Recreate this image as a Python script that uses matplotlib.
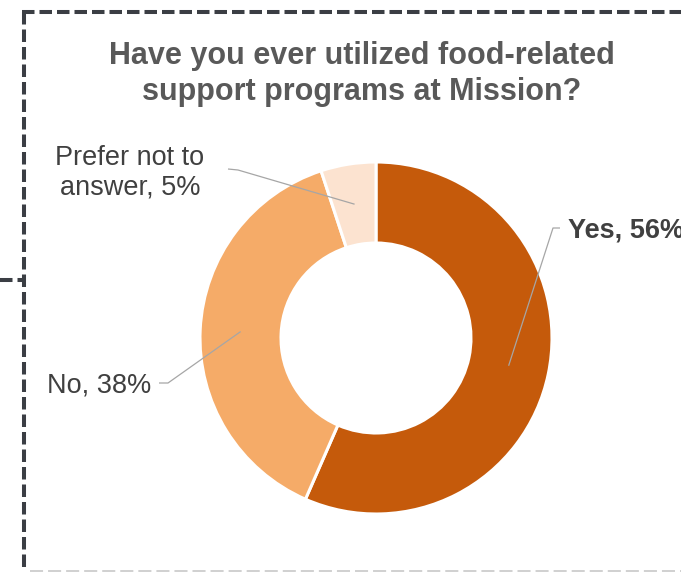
import matplotlib
matplotlib.use("Agg")
import matplotlib.pyplot as plt
from matplotlib.lines import Line2D
import numpy as np

plt.rcParams['font.family'] = ['Liberation Sans', 'DejaVu Sans']
plt.rcParams['lines.scale_dashes'] = False

# Survey responses
categories = ["Yes", "No", "Prefer not to answer"]
shares = [56, 38, 5]
label_texts = ["Yes, 56%", "No, 38%", "Prefer not to\nanswer, 5%"]
colors = ["#C55A0B", "#F5AB68", "#FCE3D0"]
title = "Have you ever utilized food-related\nsupport programs at Mission?"

W, H = 681, 572


def px(x, y):
    """Pixel position (origin top-left) to axes data coordinates."""
    return x, H - y


fig = plt.figure(figsize=(W / 100, H / 100), dpi=100)
ax = fig.add_axes([0, 0, 1, 1])

cx, cy = px(376, 338)
r_out, r_in = 176, 95
wedges, _ = ax.pie(shares, colors=colors, startangle=90, counterclock=False,
                   center=(cx, cy), radius=r_out,
                   wedgeprops=dict(width=r_out - r_in, edgecolor="white", linewidth=2.2))
ax.set_xlim(0, W)
ax.set_ylim(0, H)
ax.set_aspect("equal")
ax.axis("off")

# Leader lines: from mid-ring of each wedge to an elbow next to its label
r_mid = (r_out + r_in) / 2
label_geo = {
    "Yes": dict(elbow=(553, 228), end=(560, 228), text=(568, 230), ha="left", bold=True),
    "No": dict(elbow=(168, 383), end=(159, 383), text=(151, 385), ha="right", bold=False),
    "Prefer not to answer": dict(elbow=(238, 170), end=(228, 169), text=(130, 173), ha="center", bold=False),
}
for w, cat, lab in zip(wedges, categories, label_texts):
    mid = np.deg2rad((w.theta1 + w.theta2) / 2)
    ax_pt = (cx + r_mid * np.cos(mid), cy + r_mid * np.sin(mid))
    g = label_geo[cat]
    ex, ey = px(*g["elbow"])
    tx, ty = px(*g["end"])
    ax.plot([ax_pt[0], ex, tx], [ax_pt[1], ey, ty], color="#A6A6A6", lw=0.9,
            solid_capstyle="butt", zorder=3)
    lx, ly = px(*g["text"])
    ax.text(lx, ly, lab, ha=g["ha"], va="center", fontsize=19.5,
            fontweight="bold" if g["bold"] else "normal", color="#404040",
            linespacing=1.2, multialignment="center")

# Title
tx, ty = px(362, 74)
ax.text(tx, ty, title, ha="center", va="center", fontsize=22, fontweight="bold",
        color="#595959", linespacing=1.22)

# Dashed frame around the chart
dark = "#3B3E44"
frame_kw = dict(color=dark, lw=2.9, dashes=(9, 3.6), solid_capstyle="butt",
                dash_capstyle="butt")
ax.add_line(Line2D([px(22, 12)[0], px(W, 12)[0]], [px(22, 12)[1]] * 2, **frame_kw))
ax.add_line(Line2D([px(24, 12)[0]] * 2, [px(24, 12)[1], px(24, H)[1]], **frame_kw))
ax.add_line(Line2D([px(0, 280)[0], px(24, 280)[0]], [px(0, 280)[1]] * 2, **frame_kw))
ax.add_line(Line2D([px(30, 571)[0], px(W, 571)[0]], [px(30, 571)[1]] * 2,
                   color="#C8C8C8", lw=1.2, dashes=(9.4, 3.6), dash_capstyle="butt"))

fig.savefig("out.png", dpi=100, facecolor="white")
